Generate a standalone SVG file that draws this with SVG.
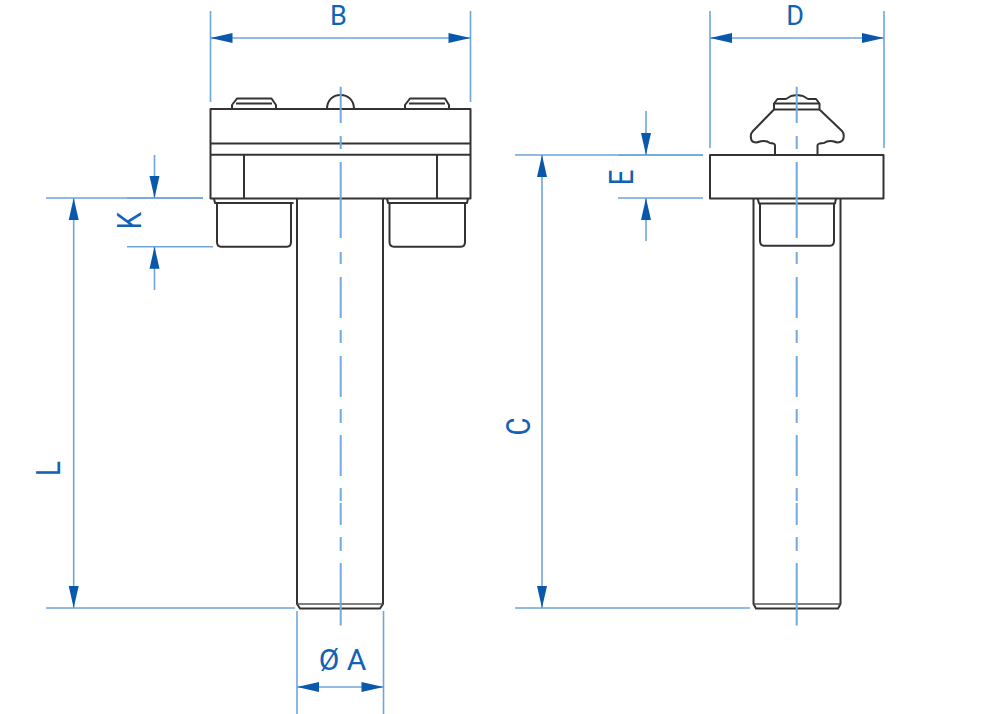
<svg xmlns="http://www.w3.org/2000/svg" width="1000" height="714" viewBox="0 0 1000 714">
<style>
.o{fill:none;stroke:#333;stroke-width:2;stroke-linejoin:round}
.t{fill:none;stroke:#555;stroke-width:1.5}
.d{fill:none;stroke:#6fa5dc;stroke-width:1.6}
.e{fill:none;stroke:#4f8dcf;stroke-width:1.6}
.a{fill:none;stroke:#6fa5dc;stroke-width:1.6;marker-end:url(#ar)}
.c{fill:none;stroke:#74a9de;stroke-width:2}
text{font-family:Roboto,"Open Sans","Liberation Sans",sans-serif;font-size:30px;fill:#0f62b4;text-anchor:middle}
text.top{font-size:27px}
</style>
<defs>
<marker id="ar" markerUnits="userSpaceOnUse" markerWidth="24" markerHeight="12" refX="23" refY="6" orient="auto">
<path d="M1 1V11L23 6Z" fill="#0a58ac"/>
</marker>
<path id="axis" d="M0 86.700V123M0 136V149M0 162V238M0 252V264M0 277V318M0 330V343M0 356V397M0 409V423M0 435V476M0 488V501M0 503V525M0 537V551M0 563V625.500"/>
</defs>
<rect width="1000" height="714" fill="#fff"/>
<g id="front-view">
<path class="o" d="M297 198V604L300 608.500H380L383 604V198"/>
<path class="t" d="M297 604H383"/>
<rect class="o" x="210.500" y="109" width="260" height="89.500"/>
<path class="o" d="M210.500 143.500H470.500M210.500 154.700H470.500M244 154.700V198M437 154.700V198"/>
<path class="o" d="M232 109V105L237 98.500H271.500L276 105V109M236 103.500H272"/>
<path class="o" d="M405 109V105L410 98.500H445L449 105V109M409 103.500H445"/>
<path class="o" d="M327 109C327 100 333 95 340.500 95C348 95 354 100 354 109"/>
<path class="o" d="M214 198.500L215 203H293.500M217 203V242Q217 246.700 221 246.700H287Q291 246.700 291 242V203"/>
<path class="o" d="M387 198.500L388 203H467L468 198.500M389.500 203V242Q389.500 246.700 394 246.700H461Q465 246.700 465 242V203"/>
</g>
<g id="side-view">
<path class="o" d="M753.500 198V604L756 608.500H838L840.500 604V198"/>
<path class="t" d="M753.500 604H840.500"/>
<rect class="o" x="710" y="155" width="173.500" height="43.500"/>
<path class="o" d="M757.700 198.500L759 203.500H835L836 198.500M760 203.500V241Q760 245.700 764 245.700H830Q834 245.700 834 241V203.500"/>
<path class="o" d="M775 155V145.500C775 143 772 143 770 143C766 140 763 141 760 141.500C755 143.500 751 142 751 138C750 134 752 132 753 131L774 109.500V103.500L777.500 99H786L791 96L797 95L803 96L808 99H816L819.500 103.500V109.500L842 131C844 133 844 135 843.500 138C843 142 838 143.500 834 141.500C831 141 828 140 824 143C822 143 817.500 143 817.500 145.500V155"/>
<path class="o" d="M774 109.500H819.500M775 103.500H819"/>
</g>
<g id="connectors">
<use class="c" href="#axis" x="340.700"/>
<use class="c" href="#axis" x="796.700"/>
<path class="d" d="M210.500 11V102M470.500 11V102M710 11V148M884 11V148"/>
<path class="d" d="M46 198H127M127 246.700H213M46 608H295M515 155H618M618 198H703M515 608H750M297 611V714M383.500 611V714"/>
<path class="e" d="M127 198H203M618 155H703"/>
<path class="a" d="M340 38H210.500"/><path class="a" d="M340 38H470.500"/>
<path class="a" d="M797 38H710"/><path class="a" d="M797 38H884"/>
<path class="a" d="M340 687H297"/><path class="a" d="M340 687H383.500"/>
<path class="a" d="M73.700 400V198"/><path class="a" d="M73.700 400V608"/>
<path class="a" d="M542 400V155"/><path class="a" d="M542 400V608"/>
<path class="a" d="M154.500 155V198"/><path class="a" d="M154.500 290V246.700"/>
<path class="a" d="M646 111V155"/><path class="a" d="M646 241V198"/>
</g>
<g id="labels">
<text class="top" x="338.300" y="25">B</text>
<text class="top" x="795" y="25">D</text>
<text x="342.500" y="670">Ø A</text>
<text transform="translate(60 468.500) rotate(-90) scale(.92 1.08)">L</text>
<text transform="translate(141 220.500) rotate(-90) scale(.92 1.08)">K</text>
<text transform="translate(633 177.500) rotate(-90) scale(.92 1.08)">E</text>
<text transform="translate(530 426.500) rotate(-90) scale(.92 1.08)">C</text>
</g>
</svg>
